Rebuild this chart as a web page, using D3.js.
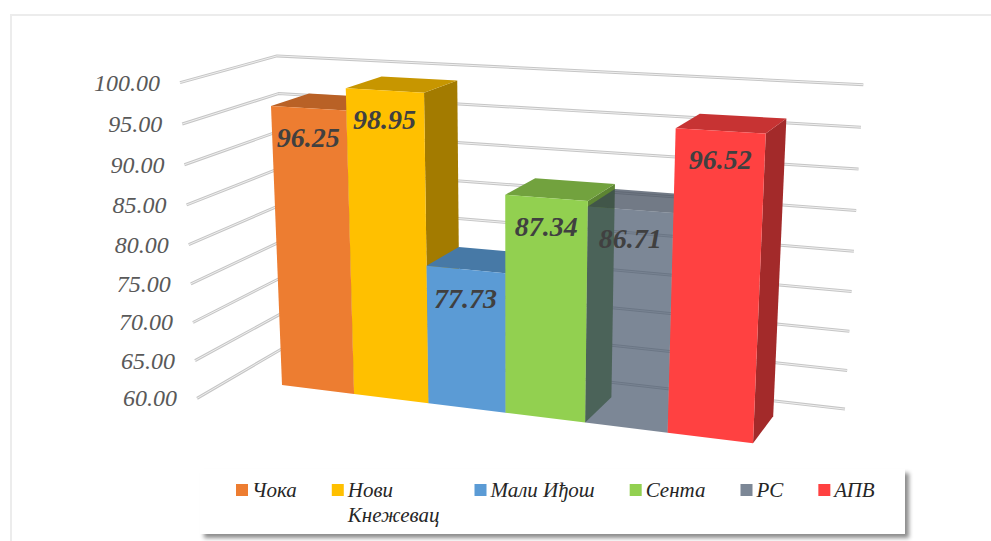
<!DOCTYPE html>
<html>
<head>
<meta charset="utf-8">
<script src="https://cdn.jsdelivr.net/npm/d3@7"></script>
<style>
  html, body { margin: 0; padding: 0; background: #ffffff; }
  svg { display: block; }
</style>
</head>
<body>
<svg id="chart" width="991" height="541"></svg>
<script>
// ---------------- data ----------------
const categories = ["Чока", "Нови Кнежевац", "Мали Иђош", "Сента", "РС", "АПВ"];
const values = [96.25, 98.95, 77.73, 87.34, 86.71, 96.52];
const yTickValues = [60, 65, 70, 75, 80, 85, 90, 95, 100];

// ---------------- styles ----------------
const barColors = ["#ED7D31", "#FFC000", "#5B9BD5", "#92D050", "#455469", "#FF4141"];
const barOpacity = [1, 1, 1, 1, 0.7, 1];

// ---------------- perspective camera (world -> screen) ----------------
const origin = [282, 385];
const vpX = [-4120, -160], vpY = [514, 6265], vpZ = [1240, -210];
const kX = -0.01611, kY = -0.0012497, kZ = 0.039;
function P(X, Y, Z) {
  const w = 1 + kX * X + kY * Y + kZ * Z;
  const x = (origin[0] + kX * X * vpX[0] + kY * Y * vpY[0] + kZ * Z * vpZ[0]) / w;
  const y = (origin[1] + kX * X * vpX[1] + kY * Y * vpY[1] + kZ * Z * vpZ[1]) / w;
  return [x, y];
}

// world extents
const xScale = d3.scaleBand().domain(categories).range([0, 6]).paddingInner(0).paddingOuter(0);
const yScale = d3.scaleLinear().domain([60, 100]).range([0, 40]);
const barDepth = 1;
const wallLeftX = -0.731, wallFrontZ = -0.839, wallBackZ = 1.56, wallRightX = 6.738;

const svg = d3.select("#chart");
const defs = svg.append("defs");
const f = defs.append("filter").attr("id", "shadow").attr("x", "-5%").attr("y", "-20%").attr("width", "115%").attr("height", "160%");
f.append("feDropShadow").attr("dx", 4).attr("dy", 4).attr("stdDeviation", 2.2)
  .attr("flood-color", "#000").attr("flood-opacity", 0.45);

// faint chart-area border
svg.append("path").attr("d", "M11,541 L11,15 L991,15").attr("fill", "none")
  .attr("stroke", "#ececec").attr("stroke-width", 2);

const line = d3.line();

// ---------------- gridlines (side wall + back wall) ----------------
const grid = svg.append("g");
yTickValues.forEach(t => {
  const Y = yScale(t);
  const pts = [P(wallLeftX, Y, wallFrontZ), P(wallLeftX, Y, wallBackZ), P(wallRightX, Y, wallBackZ)];
  grid.append("path").attr("d", line(pts)).attr("fill", "none")
    .attr("stroke", "#c6c6c6").attr("stroke-width", 3).attr("stroke-linejoin", "round");
  grid.append("path").attr("d", line(pts)).attr("fill", "none")
    .attr("stroke", "#efefef").attr("stroke-width", 1).attr("stroke-linejoin", "round");
});

// y axis labels
const fmt = d3.format(".2f");
svg.append("g").selectAll("text").data(yTickValues).join("text")
  .attr("x", d => P(wallLeftX, yScale(d), wallFrontZ)[0] - 20)
  .attr("y", d => P(wallLeftX, yScale(d), wallFrontZ)[1])
  .attr("text-anchor", "end").attr("dominant-baseline", "central")
  .attr("font-family", "'Liberation Serif', serif").attr("font-style", "italic")
  .attr("font-size", 24).attr("fill", "#595959")
  .text(d => fmt(d));

// ---------------- bars ----------------
const poly = pts => "M" + pts.map(p => p[0].toFixed(2) + "," + p[1].toFixed(2)).join("L") + "Z";
const bars = svg.append("g");
categories.forEach((c, i) => {
  const x0 = xScale(c), x1 = x0 + xScale.bandwidth();
  const h = yScale(values[i]);
  const base = d3.color(barColors[i]);
  const g = bars.append("g");
  const op = barOpacity[i];
  // right side
  g.append("path").attr("d", poly([P(x1, 0, 0), P(x1, 0, barDepth), P(x1, h, barDepth), P(x1, h, 0)]))
    .attr("fill", base.darker(1.25)).attr("fill-opacity", op);
  // top
  g.append("path").attr("d", poly([P(x0, h, 0), P(x1, h, 0), P(x1, h, barDepth), P(x0, h, barDepth)]))
    .attr("fill", base.darker(0.7)).attr("fill-opacity", op);
  // front
  g.append("path").attr("d", poly([P(x0, 0, 0), P(x1, 0, 0), P(x1, h, 0), P(x0, h, 0)]))
    .attr("fill", base).attr("fill-opacity", op);
});

// data labels
svg.append("g").selectAll("text").data(categories).join("text")
  .attr("x", (c, i) => P(xScale(c) + xScale.bandwidth() / 2, yScale(values[i]), 0)[0])
  .attr("y", (c, i) => P(xScale(c) + xScale.bandwidth() / 2, yScale(values[i]), 0)[1] + 29)
  .attr("text-anchor", "middle").attr("dominant-baseline", "central")
  .attr("font-family", "'Liberation Serif', serif").attr("font-style", "italic").attr("font-weight", "bold")
  .attr("font-size", 28).attr("fill", "#404040")
  .text((c, i) => values[i].toFixed(2));

// ---------------- legend ----------------
const leg = svg.append("g");
leg.append("rect").attr("x", 200).attr("y", 469).attr("width", 705).attr("height", 65)
  .attr("fill", "#ffffff").attr("filter", "url(#shadow)");
let lx = 236;
categories.forEach((c, i) => {
  leg.append("rect").attr("x", lx).attr("y", 484).attr("width", 12).attr("height", 12)
    .attr("fill", barColors[i]).attr("fill-opacity", barOpacity[i]);
  const words = c.length > 10 ? c.split(" ") : [c];
  const t = leg.append("text").attr("x", lx + 16).attr("y", 497)
    .attr("font-family", "'Liberation Serif', serif").attr("font-style", "italic")
    .attr("font-size", 21).attr("fill", "#262626");
  words.forEach((w, j) => {
    t.append("tspan").attr("x", lx + 16).attr("dy", j === 0 ? 0 : 25).text(w);
  });
  let wmax = 0;
  t.selectAll("tspan").each(function () { wmax = Math.max(wmax, this.getComputedTextLength()); });
  lx = lx + 16 + wmax + 35;
});
</script>
</body>
</html>
